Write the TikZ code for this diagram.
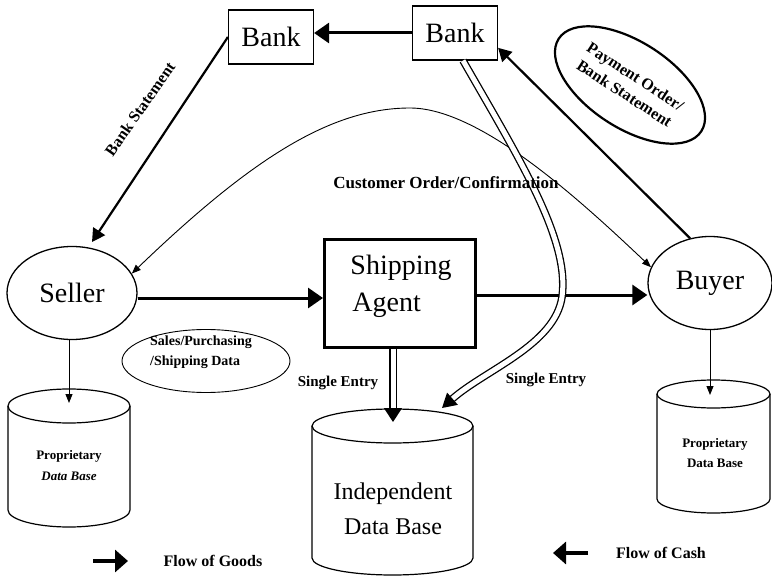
\documentclass[tikz,border=0pt]{standalone}
\usepackage{fontspec}
\setmainfont{Liberation Serif}
\usetikzlibrary{arrows.meta,shapes.geometric}
\begin{document}
\begin{tikzpicture}[x=1pt,y=1pt,
  big/.style={font=\fontsize{28}{37}\selectfont},
  lbl/.style={font=\bfseries\fontsize{15}{18}\selectfont},
  box/.style={draw, line width=1.2pt, minimum width=85pt, minimum height=54pt, inner sep=0pt, big},
  oval/.style={draw, ellipse, line width=1.3pt, inner sep=0pt, big},
  heavyarrow/.style={line width=3pt, -{Triangle[length=15pt,width=20pt]}},
  medarrow/.style={line width=2.2pt, -{Triangle[length=13pt,width=14pt]}},
  thinarrow/.style={line width=0.9pt, -{Triangle[length=9pt,width=7pt]}},
  dbl/.style={double, double distance=5pt, line width=1.3pt},
  dbline/.style={line width=1.2pt},
]
\useasboundingbox (0,0) rectangle (772,-578);

% nodes
\node[box] (bankL) at (271,-37) {Bank};
\node[box] (bankR) at (455,-33) {Bank};
\node[oval, minimum width=130pt, minimum height=93pt] (seller) at (72,-293) {Seller};
\node[oval, minimum width=124pt, minimum height=93pt] (buyer) at (710,-283) {Buyer};
\node[draw, line width=3pt, minimum width=151pt, minimum height=108pt] (ship) at (400,-293) {};
\node[big, align=left, inner sep=0pt] (shiptxt) at (401,-286) {Shipping\\[-0pt]\hspace*{2pt}Agent};
\node[draw, ellipse, line width=2.2pt, rotate=-33, minimum width=170pt, minimum height=86pt,
      align=center, inner sep=0pt, font=\bfseries\fontsize{16}{20}\selectfont] (pay) at (630,-85)
      {Payment Order/\\Bank Statement};
\node[draw, ellipse, line width=0.9pt, minimum width=168pt, minimum height=63pt] (sales) at (206,-361) {};
\node[align=left, inner sep=0pt, font=\bfseries\fontsize{14}{20}\selectfont] (salestxt) at (201,-352)
      {Sales/Purchasing\\/Shipping Data};

% databases
\draw[dbline] (8,-406) -- (8,-510) arc (180:360:61 and 17) -- (130,-406);
\draw[dbline] (69,-406) ellipse (61 and 17);
\node[align=center, inner sep=0pt, font=\bfseries\fontsize{13}{21}\selectfont] (dbLtxt) at (69,-466)
      {Proprietary\\\textit{Data Base}};
\coordinate (dbLin) at (69,-403);

\draw[dbline] (657,-394) -- (657,-499) arc (180:360:56.5 and 14) -- (770,-394);
\draw[dbline] (713.5,-394) ellipse (56.5 and 14);
\node[align=center, inner sep=0pt, font=\bfseries\fontsize{13}{20}\selectfont] (dbRtxt) at (715,-453)
      {Proprietary\\Data Base};
\coordinate (dbRin) at (710,-395);

\draw[dbline] (312,-426) -- (312,-558) arc (180:360:80.5 and 17) -- (473,-426);
\draw[dbline] (392.5,-426) ellipse (80.5 and 17);
\node[align=center, inner sep=0pt, font=\fontsize{24}{35}\selectfont] (indtxt) at (393,-509)
      {Independent\\Data Base};
\coordinate (indIn1) at (393,-422);
\coordinate (indIn2) at (442,-408);
\coordinate (shipOut) at (393,-349);
\coordinate (sellerIn) at (92,-242);

% connectors
\draw[heavyarrow] (bankR.west) -- (bankR.west -| bankL.east);
\draw[medarrow] (bankL.west) -- (sellerIn);
\draw[medarrow] (buyer.114) -- (bankR.-19);
\draw[heavyarrow] ([yshift=-5pt]seller.east) -- ([yshift=-5pt]seller.east -| ship.west);
\draw[heavyarrow] ([yshift=-2pt]ship.east) -- ([yshift=-2pt]ship.east -| buyer.west);
\draw[line width=0.9pt, {Triangle[length=9pt,width=7pt]}-{Triangle[length=9pt,width=7pt]}]
  (seller.18) .. controls (250,-160) and (330,-108) .. (410,-108)
  .. controls (480,-108) and (580,-200) .. (buyer.165);
\draw[thinarrow] (seller.south -| dbLin) -- (dbLin);
\draw[thinarrow] (buyer.south -| dbRin) -- (dbRin);
\draw[dbl, -{Triangle[length=14pt,width=18pt]}] (shipOut) -- (indIn1);
\draw[dbl, -{Triangle[length=14pt,width=16pt]}] ([xshift=8pt]bankR.south)
  .. controls (520,-160) and (570,-240) .. (562,-297)
  .. controls (555,-345) and (485,-370) .. (indIn2);

% labels
\node[lbl, rotate=55, font=\bfseries\fontsize{16}{18}\selectfont] (bst) at (140,-109) {Bank Statement};
\node[lbl, font=\bfseries\fontsize{17}{18}\selectfont] (cust) at (446,-183) {Customer Order/Confirmation};
\node[lbl] (se1) at (338,-383) {Single Entry};
\node[lbl] (se2) at (546,-380) {Single Entry};

% legend
\coordinate (gA) at (93,-561);
\coordinate (gB) at (128,-561);
\draw[line width=4pt, -{Triangle[length=13pt,width=22pt]}] (gA) -- (gB);
\node[lbl, font=\bfseries\fontsize{16}{18}\selectfont] (goods) at (213,-561) {Flow of Goods};
\coordinate (cA) at (588,-553);
\coordinate (cB) at (553,-553);
\draw[line width=4pt, -{Triangle[length=13pt,width=22pt]}] (cA) -- (cB);
\node[lbl, font=\bfseries\fontsize{16}{18}\selectfont] (cash) at (661,-553) {Flow of Cash};
\end{tikzpicture}
\end{document}
